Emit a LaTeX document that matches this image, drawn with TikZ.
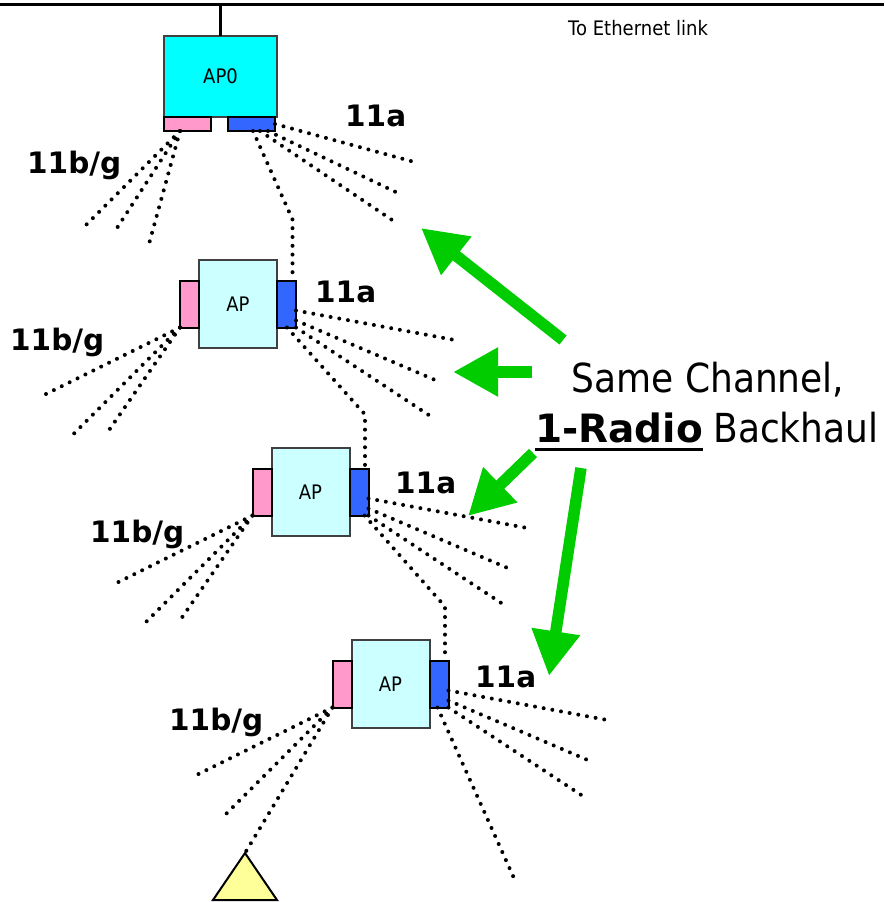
\documentclass[tikz,border=0pt]{standalone}
\usepackage{fontspec}
\setmainfont{DejaVu Sans}
\newfontfamily\narrowfont{DejaVu Sans}[FakeStretch=0.9]
\usepackage{tikz}
\usetikzlibrary{
  arrows.meta,
  positioning,
}
\definecolor{apcyan}{RGB}{0, 255, 255}
\definecolor{aplight}{RGB}{204, 255, 255}
\definecolor{radiopink}{RGB}{255, 153, 204}
\definecolor{radioblue}{RGB}{51, 102, 255}
\definecolor{clientyellow}{RGB}{255, 255, 153}
\definecolor{hintgreen}{RGB}{0, 204, 0}
\tikzstyle{apbox} = [
  draw=black!75,
  line width=2pt,
  fill=aplight,
  minimum width=78pt,
  minimum height=88pt,
  inner sep=0,
  outer sep=0,
  font=\narrowfont\fontsize{20}{24}\selectfont,
]
\tikzstyle{radio} = [
  draw=black,
  line width=2pt,
  minimum width=19pt,
  minimum height=47pt,
  inner sep=0,
  outer sep=0,
]
\tikzstyle{radiolink} = [
  line width=4pt,
  line cap=round,
  dash pattern=on 0pt off 8.8pt,
]
\tikzstyle{band} = [
  inner sep=0,
  anchor=base west,
  font=\bfseries\fontsize{29.5}{30}\selectfont,
]
\tikzstyle{note} = [
  inner sep=0,
  anchor=base,
  font=\narrowfont\fontsize{40}{50}\selectfont,
]
\tikzstyle{hint} = [
  -{Triangle[length=45pt, width=46pt]},
  line width=11.5pt,
  hintgreen,
]

\begin{document}
\begin{tikzpicture}[x=1pt, y=-1pt]
        \useasboundingbox (0,0) rectangle (884,902);

        % wired uplink
        \coordinate (bus) at (220.5,4);
        \draw [line width=3pt] (0,4) -- (884,4);
        \node [inner sep=0, anchor=base west, font=\narrowfont\fontsize{20}{24}\selectfont] (eth) at (568,35) {To Ethernet link};

        % root AP with its two radios underneath
        \node [apbox, fill=apcyan, minimum width=113pt, minimum height=81pt] (ap0) at (220.5,76.5) {AP0};
        \draw [line width=2.5pt] (bus) -- (ap0.north);
        \node [radio, fill=radiopink, minimum width=47pt, minimum height=14pt, anchor=north west] (pk0) at (ap0.south west) {};
        \node [radio, fill=radioblue, minimum width=47pt, minimum height=14pt, anchor=north east] (bl0) at ([xshift=-2pt]ap0.south east) {};

        % relay APs, pink = 11b/g, blue = 11a
        \foreach \n/\x/\y in {1/238/304, 2/310.5/492, 3/390.5/684} {
          \node [apbox] (ap\n) at (\x,\y) {AP};
          \node [radio, fill=radiopink, left=0pt of ap\n] (pk\n) {};
          \node [radio, fill=radioblue, right=0pt of ap\n] (bl\n) {};
        }

        % 11a coverage
        \draw [radiolink] (bl0.east) -- ++(143,39);
        \draw [radiolink] ([xshift=-7pt]bl0.south east) -- ++(134,64);
        \draw [radiolink] ([xshift=-15pt]bl0.south east) -- ++(138,93);
        \foreach \n in {1,2,3} {
          \draw [radiolink] ([yshift=17pt]bl\n.south east) -- ++(156,29);
          \draw [radiolink] ([yshift=7pt]bl\n.south east) -- ++(138,59);
          \draw [radiolink] (bl\n.south east) -- ++(135,89);
        }
        \draw [radiolink] ([xshift=-11pt]bl3.south east) -- ++(78,174);

        % 11b/g coverage
        \draw [radiolink] ([xshift=16pt]pk0.south west) -- ++(-97,97);
        \draw [radiolink] ([xshift=16pt]pk0.south west) -- ++(-63,97);
        \draw [radiolink] ([xshift=16pt]pk0.south west) -- ++(-31,113);
        \foreach \n in {1,2} {
          \draw [radiolink] (pk\n.south west) -- ++(-137,68);
          \draw [radiolink] (pk\n.south west) -- ++(-107,107);
          \draw [radiolink] (pk\n.south west) -- ++(-74,107);
        }
        \draw [radiolink] (pk3.south west) -- ++(-137,68);
        \draw [radiolink] (pk3.south west) -- ++(-107,107);

        % client station
        \coordinate (client) at (245,853);
        \draw [line width=2pt, fill=clientyellow] (client) -- ++(32,47) -- ++(-64,0) -- cycle;
        \draw [radiolink] (pk3.south west) -- (client);

        % backhaul hops
        \draw [radiolink] ([xshift=-22pt]bl0.south east) -- ([xshift=6pt, yshift=61pt]bl1.north) -- ([xshift=6pt]bl1.north);
        \draw [radiolink] ([xshift=-9pt]bl1.south east) -- ([xshift=6pt, yshift=54pt]bl2.north) -- ([xshift=6pt]bl2.north);
        \draw [radiolink] ([xshift=-4pt]bl2.south east) -- ([xshift=6pt, yshift=54pt]bl3.north) -- ([xshift=6pt]bl3.north);

        \node [band] (a0) at (345,126) {11a};
        \node [band] (a1) at (315,302) {11a};
        \node [band] (a2) at (395,493) {11a};
        \node [band] (a3) at (475,687) {11a};

        \node [band] (bg0) at (27,173) {11b/g};
        \node [band] (bg1) at (10,350) {11b/g};
        \node [band] (bg2) at (90,542) {11b/g};
        \node [band] (bg3) at (169,730) {11b/g};

        \node [note] (chan) at (708,392) {Same Channel,};
        \node [note, anchor=base west, font=\bfseries\fontsize{39}{50}\selectfont] (radio) at (535,442) {1-Radio};
        \node [note, base right=10pt of radio] (haul) {Backhaul};
        \draw [line width=3.5pt] ([yshift=-7.5pt]radio.base west) -- ([yshift=-7.5pt]radio.base east);

        \foreach \i/\tx/\ty/\hx/\hy in {1/563/340/421/228, 2/532/372/453/372, 3/533/453/468/516, 4/581/468/549/676} {
          \coordinate (tail\i) at (\tx,\ty);
          \coordinate (tip\i) at (\hx,\hy);
          \draw [hint] (tail\i) -- (tip\i);
        }
      \end{tikzpicture}
\end{document}
